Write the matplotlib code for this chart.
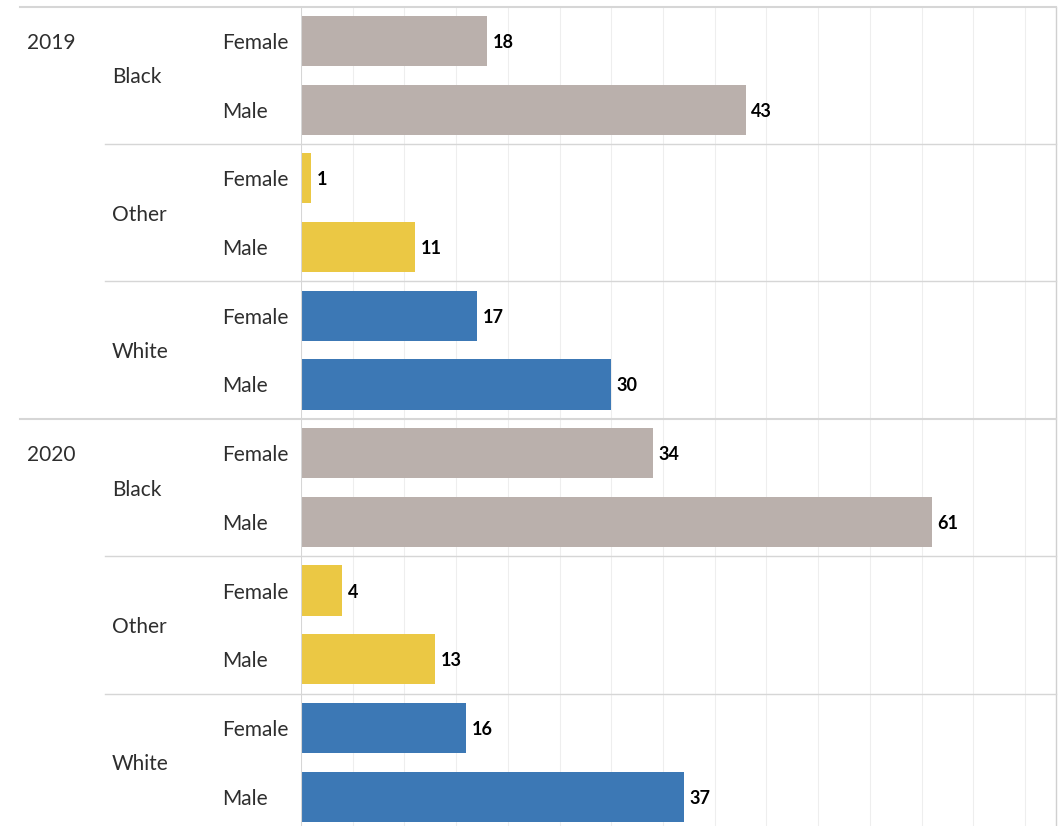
import matplotlib
matplotlib.use('Agg')
import matplotlib.pyplot as plt
import matplotlib.transforms as mtransforms

# Data
years = ['2019', '2020']
races = ['Black', 'Other', 'White']
genders = ['Female', 'Male']
counts_2019 = [18, 43, 1, 11, 17, 30]
counts_2020 = [34, 61, 4, 13, 16, 37]
race_colors = {'Black': '#BAB0AC', 'Other': '#EBC844', 'White': '#3C78B5'}

plt.rcParams['font.family'] = ['Lato', 'DejaVu Sans']

W, H = 1061, 826
fig = plt.figure(figsize=(W / 100, H / 100), dpi=100)
ax = fig.add_axes([301 / W, -5 / H, 755 / W, (831 - 6.65) / H])

# build rows
values, colors, row_gender = [], [], []
for counts in [counts_2019, counts_2020]:
    for i, race in enumerate(races):
        for j, g in enumerate(genders):
            values.append(counts[i * 2 + j])
            colors.append(race_colors[race])
            row_gender.append(g)
ypos = list(range(len(values)))

ax.barh(ypos, values, height=0.73, color=colors, zorder=3)
ax.set_xlim(0, 73.0)
ax.set_ylim(11.5, -0.5)

# grid lines every 5
for gx in range(5, 75, 5):
    ax.axvline(gx, color='#EEEEEE', lw=0.8, zorder=1)
ax.axvline(0, color='#D6D6D6', lw=1.5, zorder=4)

for s in ['top', 'bottom', 'left']:
    ax.spines[s].set_visible(False)
ax.spines['right'].set_color('#D0D0D0')
ax.spines['right'].set_linewidth(1)
ax.set_xticks([])
ax.set_yticks([])

# value labels
for y, v in zip(ypos, values):
    ax.annotate(str(v), (v, y), xytext=(4, 0), textcoords='offset points',
                va='center_baseline', ha='left', fontsize=13, fontweight='bold', color='black')

# header labels on the left
tr = mtransforms.blended_transform_factory(fig.transFigure, ax.transData)
label_color = '#2E2E2E'
for y, g in zip(ypos, row_gender):
    fig.text(222 / W, y, g, transform=tr, va='center_baseline', ha='left', fontsize=15, color=label_color)
for k in range(len(years) * len(races)):
    fig.text(112 / W, 2 * k + 0.5, races[k % 3], transform=tr, va='center_baseline', ha='left',
             fontsize=15, color=label_color)
for k, yr in enumerate(years):
    fig.text(27 / W, 6 * k, yr, transform=tr, va='center_baseline', ha='left', fontsize=15, color=label_color)

# separators
sep_color = '#D6D6D6'
fig.add_artist(plt.Line2D([20 / W, 1056 / W], [-0.5, -0.5], transform=tr, color=sep_color, lw=1.5))
fig.add_artist(plt.Line2D([20 / W, 1056 / W], [5.5, 5.5], transform=tr, color=sep_color, lw=1.5))
for yb in [1.5, 3.5, 7.5, 9.5]:
    fig.add_artist(plt.Line2D([105 / W, 1056 / W], [yb, yb], transform=tr, color=sep_color, lw=1.0))

fig.savefig('out.png', dpi=100)
